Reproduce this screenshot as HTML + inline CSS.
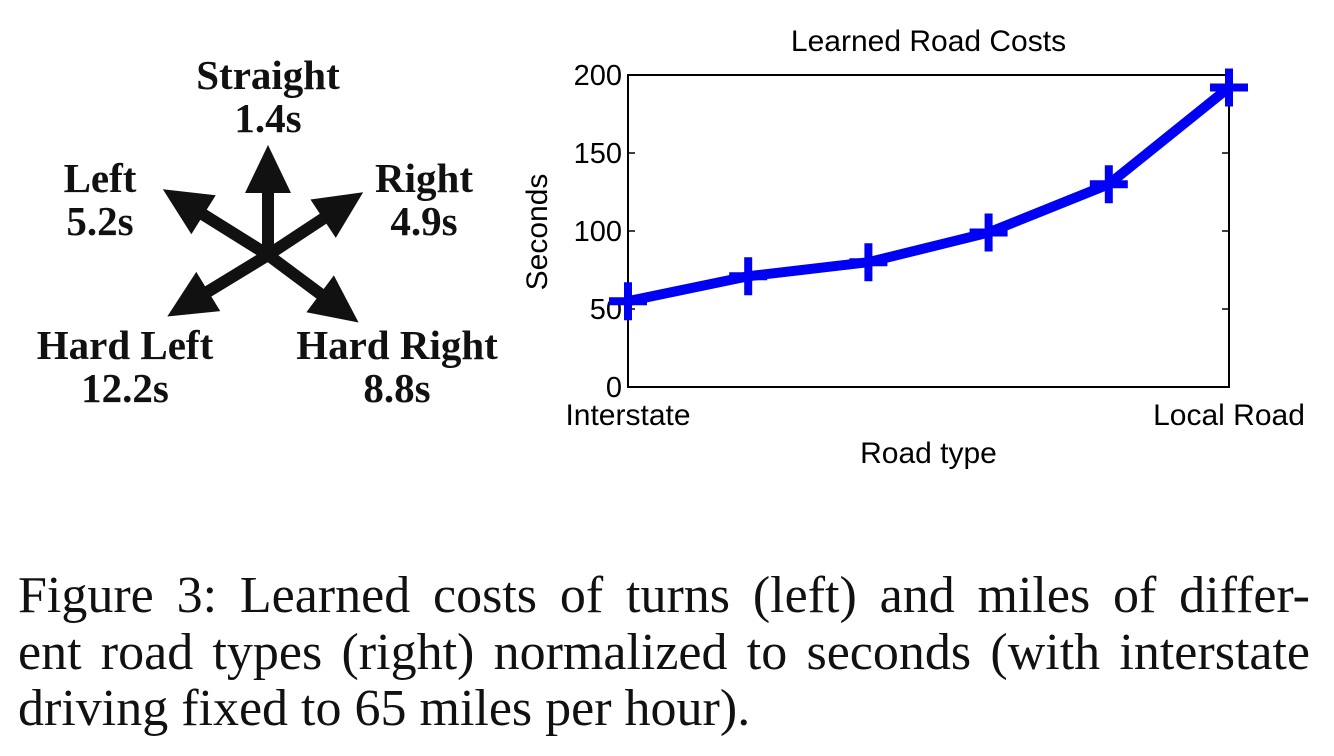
<!DOCTYPE html>
<html><head><meta charset="utf-8"><style>
body{margin:0;background:#fff;width:1334px;height:756px;overflow:hidden;position:relative}
.t{position:absolute;font-family:"Liberation Serif",serif;font-weight:bold;font-size:41px;text-align:center;line-height:43px;color:#111}
.cap{position:absolute;left:18px;width:1292px;font-family:"Liberation Serif",serif;font-size:52px;line-height:56px;color:#111;text-align:justify;text-align-last:justify;white-space:nowrap}
</style></head><body>
<svg style="position:absolute;left:0;top:0" width="1334" height="756">
<g fill="#111" stroke="#111">
<g transform="translate(268,255) rotate(0)"><line x1="0" y1="0" x2="0" y2="-66" stroke-width="12"/><polygon points="0,-110 -23,-62 23,-62" stroke="none"/></g>
<g transform="translate(268,255) rotate(-58)"><line x1="0" y1="0" x2="0" y2="-80" stroke-width="12"/><polygon points="0,-124 -23,-76 23,-76" stroke="none"/></g>
<g transform="translate(268,255) rotate(56.6)"><line x1="0" y1="0" x2="0" y2="-70" stroke-width="12"/><polygon points="0,-114 -23,-66 23,-66" stroke="none"/></g>
<g transform="translate(268,255) rotate(-121.4)"><line x1="0" y1="0" x2="0" y2="-74" stroke-width="12"/><polygon points="0,-118 -23,-70 23,-70" stroke="none"/></g>
<g transform="translate(268,255) rotate(126.7)"><line x1="0" y1="0" x2="0" y2="-69" stroke-width="12"/><polygon points="0,-113 -23,-65 23,-65" stroke="none"/></g>
</g>
</svg>
<div class="t" style="left:158px;top:54px;width:220px">Straight<br>1.4s</div>
<div class="t" style="left:30px;top:157px;width:140px">Left<br>5.2s</div>
<div class="t" style="left:354px;top:157px;width:140px">Right<br>4.9s</div>
<div class="t" style="left:5px;top:324px;width:240px">Hard Left<br>12.2s</div>
<div class="t" style="left:287px;top:324px;width:220px">Hard Right<br>8.8s</div>
<svg id="chart" style="position:absolute;left:0;top:0" width="1334" height="756" font-family="Liberation Sans, sans-serif"></svg>
<div class="cap" style="top:568px">Figure 3: Learned costs of turns (left) and miles of differ-</div>
<div class="cap" style="top:625px">ent road types (right) normalized to seconds (with interstate</div>
<div class="cap" style="top:681px;text-align-last:left;text-align:left">driving fixed to 65 miles per hour).</div>
<script>
const values=[55,71,80,99,130,192];
const yTicks=[0,50,100,150,200];
const xLabels=["Interstate","Local Road"];
const NS="http://www.w3.org/2000/svg";
const svg=document.getElementById('chart');
const X0=628,X1=1229,Y0=387,Y1=75;
const xs=i=>X0+(X1-X0)*i/(values.length-1);
const ys=v=>Y0-(Y0-Y1)*v/200;
function mk(t,a,txt){const e=document.createElementNS(NS,t);for(const k in a)e.setAttribute(k,a[k]);if(txt!=null)e.textContent=txt;svg.appendChild(e);return e;}
const fr=mk('rect',{x:X0,y:Y1,width:X1-X0,height:Y0-Y1,fill:'none',stroke:'#000','stroke-width':2});


yTicks.forEach(v=>{
 const y=ys(v);
 const l=mk('line',{x1:X0,y1:y,x2:X0+7,y2:y,stroke:'#000','stroke-width':1.5});
 
 
 const l2=mk('line',{x1:X1,y1:y,x2:X1-7,y2:y,stroke:'#000','stroke-width':1.5});
 
 
 const t=mk('text',{x:X0-6,y:y+10,'font-size':29,'text-anchor':'end'},v);
 
 
});
const xl0=mk('text',{x:X0,y:425,'font-size':30,'text-anchor':'middle'},xLabels[0]);


const xl1=mk('text',{x:X1,y:425,'font-size':30,'text-anchor':'middle'},xLabels[1]);


const tt=mk('text',{x:(X0+X1)/2,y:51,'font-size':30,'text-anchor':'middle'},'Learned Road Costs');


const xt=mk('text',{x:(X0+X1)/2,y:463,'font-size':30,'text-anchor':'middle'},'Road type');


const yt=mk('text',{x:0,y:0,'font-size':30,'text-anchor':'middle',transform:'translate(547,232) rotate(-90)'},'Seconds');


const pl=mk('polyline',{points:values.map((v,i)=>xs(i)+','+ys(v)).join(' '),fill:'none',stroke:'#0000f5','stroke-width':10,'stroke-linejoin':'round'});


values.forEach((v,i)=>{
 const x=xs(i),y=ys(v);
 const p=mk('path',{d:`M${x-19},${y}H${x+19}M${x},${y-19}V${y+19}`,stroke:'#0000f5','stroke-width':8});
 
 
});
</script>
</body></html>
